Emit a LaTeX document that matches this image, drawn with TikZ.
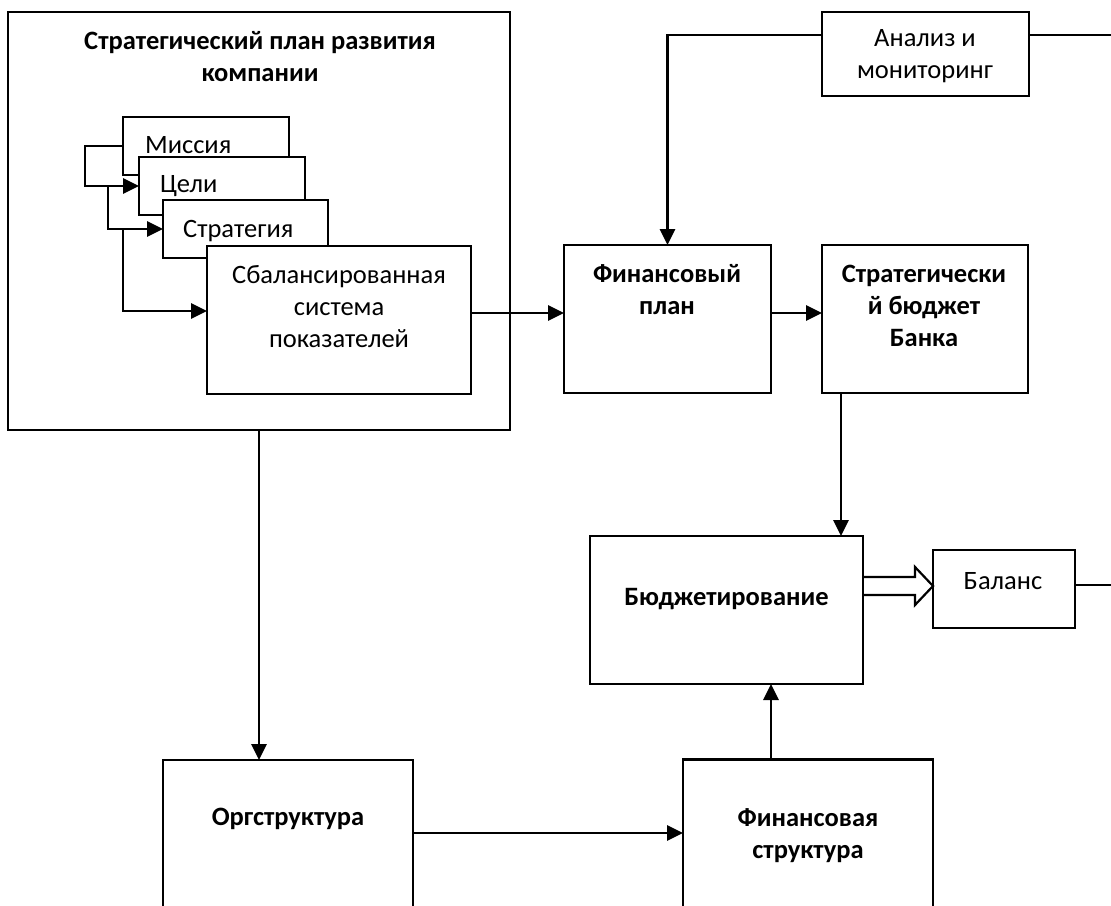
\documentclass[tikz,border=0pt]{standalone}
\usepackage{fontspec}
\setmainfont{Carlito}
\usetikzlibrary{arrows.meta,calc}
\begin{document}
\begin{tikzpicture}[x=1pt,y=-1pt,
  box/.style={draw,line width=2.6pt,fill=white,inner sep=0pt,outer sep=0pt},
  txt/.style={inner sep=0pt,font=\fontsize{26.5}{32}\selectfont,align=center},
  btxt/.style={txt,font=\fontsize{26.5}{32}\selectfont\bfseries},
  arr/.style={line width=2.8pt,-{Triangle[length=16pt,width=15pt]}},
  ln/.style={line width=2.8pt}]
\useasboundingbox (0,0) rectangle (1111,905);
\clip (0,0) rectangle (1111,905);
\fill[white] (0,0) rectangle (1111,905);

% outer plan box
\node[box,minimum width=502pt,minimum height=418pt] (plan) at (259,221) {};
\node[btxt] (plantxt) at (260,57) {Стратегический план развития\\компании};

% stacked boxes
\node[box,minimum width=166pt,minimum height=58pt] (mission) at (206,146) {};
\node[txt,anchor=base west] (missiontxt) at (145,153) {Миссия};
\node[box,minimum width=166pt,minimum height=58pt] (goals) at (222,186) {};
\node[txt,anchor=base west] (goalstxt) at (160,192) {Цели};
\node[box,minimum width=165pt,minimum height=58pt] (strategy) at (245.5,229) {};
\node[txt,anchor=base west] (strategytxt) at (183,237) {Стратегия};
\node[box,minimum width=264pt,minimum height=148pt] (bsc) at (339,320) {};
\node[txt] (bsctxt) at (339,307) {Сбалансированная\\система\\показателей};

% right column
\node[box,minimum width=207pt,minimum height=148pt] (finplan) at (667.5,319) {};
\node[btxt] (finplantxt) at (667,290) {Финансовый\\план};
\node[box,minimum width=206pt,minimum height=148pt] (stratbudget) at (925,319) {};
\node[btxt] (stratbudgettxt) at (924,306) {Стратегически\\й бюджет\\Банка};
\node[box,minimum width=207pt,minimum height=84pt] (analysis) at (925.5,54) {};
\node[txt] (analysistxt) at (925,56) {Анализ и\\мониторинг};
\node[box,minimum width=273pt,minimum height=148pt] (budget) at (726.5,610) {};
\node[btxt] (budgettxt) at (726.5,599) {Бюджетирование};
\node[box,minimum width=142pt,minimum height=78pt] (balance) at (1004,589) {};
\node[txt] (balancetxt) at (1003,581) {Баланс};
\node[box,minimum width=250pt,minimum height=200pt] (org) at (288,860) {};
\node[btxt] (orgtxt) at (288,819) {Оргструктура};
\node[box,minimum width=250pt,minimum height=200pt] (finstruct) at (808,859.5) {};
\node[btxt] (finstructtxt) at (808,836) {Финансовая\\структура};

% helper coordinates
\coordinate (j1) at (108,0);
\coordinate (j2) at (123,0);
\coordinate (r1) at (0,313);
\coordinate (a1) at (0,35);
\coordinate (redgeA) at (1111,35);
\coordinate (c841) at (841,0);
\coordinate (r2) at (0,833);
\coordinate (c771) at (771,0);
\coordinate (redgeB) at (1111,585);

% connectors in the plan box
\draw[arr] (mission.west) -- ++(-38,0) |- (goals.west);
\draw[arr] (j1 |- goals.west) |- (strategy.west);
\draw[arr] (j2 |- strategy.west) |- ($(bsc.west)+(0,-9)$);

\draw[arr] (bsc.east |- r1) -- (finplan.west |- r1);
\draw[arr] (finplan.east |- r1) -- (stratbudget.west |- r1);
\draw[arr] (analysis.west |- a1) -| (finplan.north);
\draw[ln] (analysis.east |- a1) -- (redgeA);
\draw[arr] (stratbudget.south -| c841) -- (budget.north -| c841);
\draw[arr] (plan.south) -- (org.north -| plan.south);
\draw[arr] (org.east |- r2) -- (finstruct.west |- r2);
\draw[arr] (finstruct.north -| c771) -- (budget.south -| c771);
\draw[ln] (balance.east |- redgeB) -- (redgeB);

% hollow arrow
\path (balance.west) ++(0,-3) coordinate (tip);
\draw[line width=2.2pt,line join=miter]
  ($(budget.east |- tip)+(0,-9)$) -- ($(tip)+(-18,-9)$) -- ($(tip)+(-18,-19)$)
  -- (tip) -- ($(tip)+(-18,19)$) -- ($(tip)+(-18,9)$) -- ($(budget.east |- tip)+(0,9)$);
\end{tikzpicture}
\end{document}
